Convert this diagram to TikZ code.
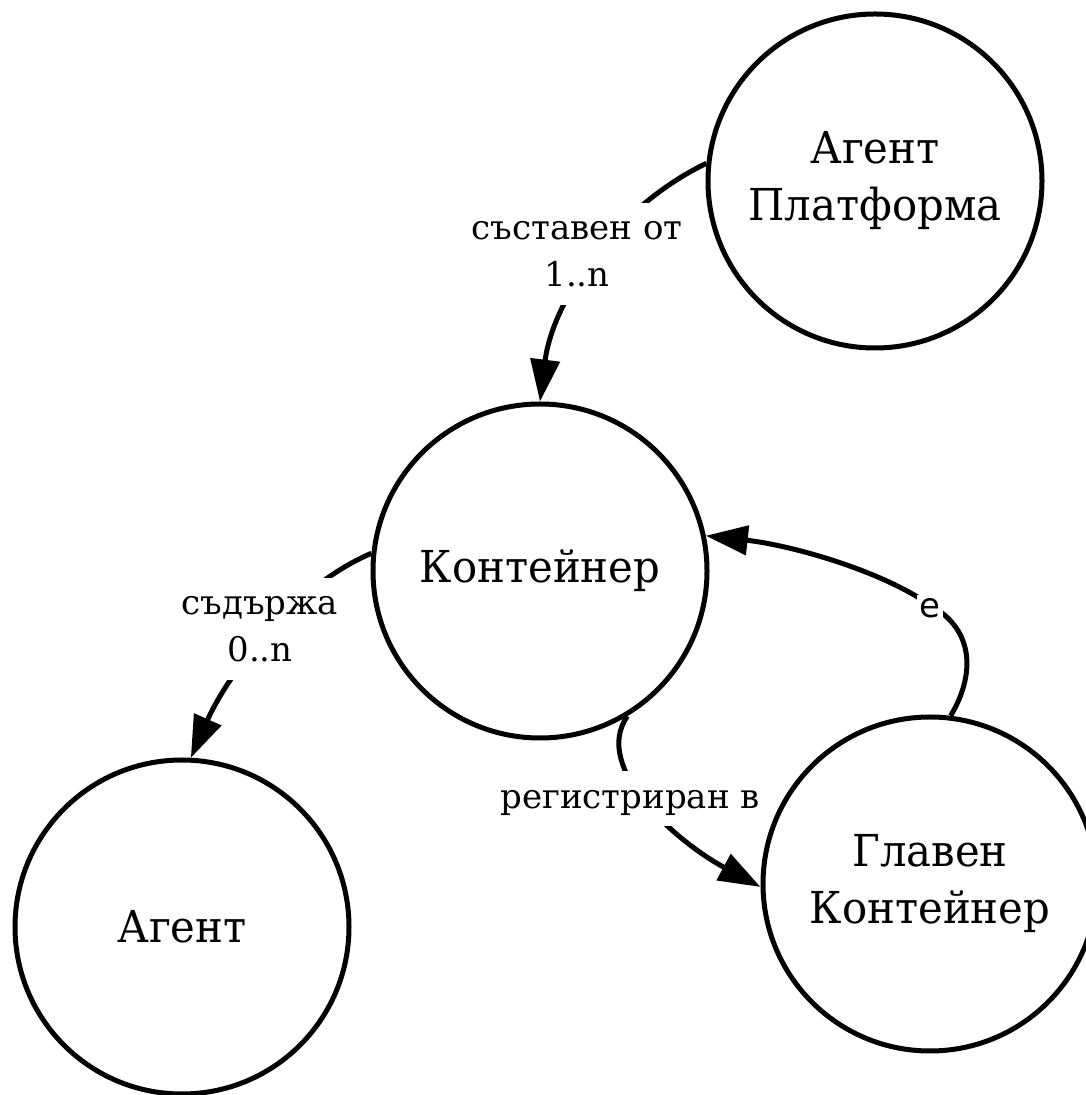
\documentclass[tikz,border=0pt]{standalone}
\usepackage{fontspec}
\setmainfont{DejaVu Serif}
\newfontfamily\statefont{DejaVu Serif}[FakeStretch=0.95]
\newfontfamily\esans{DejaVu Sans}
\usetikzlibrary{arrows.meta}
\begin{document}
\begin{tikzpicture}[x=1pt,y=1pt,
  state/.style={circle,draw,line width=5pt,minimum size=334pt,inner sep=0pt,align=center,
    font=\statefont\fontsize{44}{57}\selectfont},
  edge/.style={line width=5pt,-{Triangle[length=42pt,width=29pt]}},
  elabel/.style={fill=white,inner sep=4pt,align=center,font=\fontsize{34}{47}\selectfont}]
\useasboundingbox (0,0) rectangle (1086,1095);
\clip (0,0) rectangle (1086,1095);
\node[state] (P) at (875,914) {Агент\\Платформа};
\node[state] (K) at (540,524) {Контейнер};
\node[state] (A) at (182,168) {Агент};
\node[state] (G) at (930,211) {Главен\\Контейнер};
\coordinate (e4mid) at (930,490);
\draw[edge] (P.174) .. controls (610,885) and (552,790) .. (K.north);
\draw[edge] (K.174) .. controls (290,507) and (226,417) .. (A.87);
\draw[edge] (K.-59.4) .. controls (592,328) and (675,254) .. (G.181);
\draw[edge] (G.83) .. controls (975,420) and (975,465) .. (e4mid) .. controls (880,525) and (790,550) .. (K.12.6);
\node[elabel] (l1) at (577,841) {\strut съставен от\\\strut 1..n};
\node[elabel] (l2) at (260,466) {\strut съдържа\\\strut 0..n};
\node[elabel] (l3) at (630,296) {\strut регистриран в};
\node[elabel,inner sep=3pt,font=\esans\fontsize{34}{40}\selectfont] (l4) at (930,487) {e};
\end{tikzpicture}
\end{document}
